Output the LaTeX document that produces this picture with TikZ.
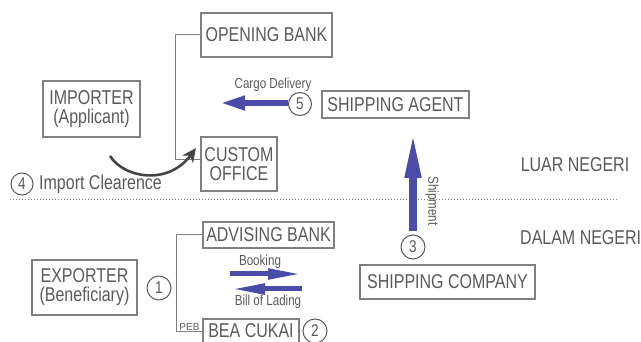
\documentclass[tikz,border=0pt]{standalone}
\usepackage{fontspec}
\setmainfont{Liberation Sans}[FakeStretch=0.8]
\newfontfamily\pebfont{Liberation Sans}
\usetikzlibrary{arrows.meta}

\definecolor{framegray}{HTML}{808080}
\definecolor{inkgray}{HTML}{5A5A5A}
\definecolor{flowblue}{HTML}{4B4BAA}
\definecolor{curvegray}{HTML}{454545}

\tikzset{
  party/.style={draw=framegray, line width=1.1pt, text=inkgray, align=center,
    inner sep=0pt, font=\fontsize{20}{19}\selectfont},
  stepno/.style={circle, draw=inkgray, line width=1pt, text=inkgray,
    inner sep=0pt, minimum size=#1, font=\fontsize{17}{17}\selectfont},
  flowlabel/.style={text=inkgray, inner sep=0pt, font=\fontsize{14.5}{15}\selectfont},
  zonelabel/.style={text=inkgray, inner sep=0pt, font=\fontsize{20}{20}\selectfont},
  link/.style={draw=framegray, line width=1pt},
  blueflow/.style={draw=flowblue, line width=#1},
}

\begin{document}
\begin{tikzpicture}[x=1pt, y=-1pt]
  \useasboundingbox (0,0) rectangle (641,342);

  % --- parties ---
  \node[party, minimum width=131pt, minimum height=44pt] (opening) at (266.5,35) {OPENING BANK};
  \node[party, minimum width=97pt,  minimum height=56pt] (importer) at (91.5,109) {IMPORTER\\(Applicant)};
  \node[party, minimum width=76pt,  minimum height=54pt] (custom) at (239,164) {CUSTOM\\OFFICE};
  \node[party, minimum width=147pt, minimum height=27pt] (agent) at (395.5,104.5) {SHIPPING AGENT};
  \node[party, minimum width=131pt, minimum height=26pt] (advising) at (268.5,235) {ADVISING BANK};
  \node[party, minimum width=105pt, minimum height=55pt] (exporter) at (84.5,287.5) {EXPORTER\\(Beneficiary)};
  \node[party, minimum width=175pt, minimum height=34pt] (shipco) at (447.5,282) {SHIPPING COMPANY};
  \node[party, minimum width=96pt,  minimum height=28pt] (beacukai) at (251,333) {};
  \node[text=inkgray, inner sep=0pt, font=\fontsize{20}{19}\selectfont] (beatext) at (251,330.5) {BEA CUKAI};

  % --- step numbers ---
  \node[stepno=24pt] (s1) at (159,288) {1};
  \node[stepno=24pt] (s2) at (315,331) {2};
  \node[stepno=24pt] (s3) at (413,247) {3};
  \node[stepno=22pt] (s4) at (22,184) {4};
  \node[stepno=23pt] (s5) at (300,104) {5};

  % --- zone labels and separator ---
  \node[zonelabel] (luar) at (575,165) {LUAR NEGERI};
  \node[zonelabel, anchor=west] (dalam) at (520,238) {DALAM NEGERI};
  \node[zonelabel, anchor=west] (clearance) at (39,184) {Import Clearence};
  \coordinate (sepL) at (10,199);
  \coordinate (sepR) at (618,199);
  \draw[framegray, line width=0.8pt, dash pattern=on 1pt off 2pt] (sepL) -- (sepR);

  % --- bank / customs connectors ---
  \draw[link] (opening.west) -- ++(-25,0) |- ([yshift=4pt]custom.west);
  \draw[link] (advising.west) -- ++(-26,0) |- ([yshift=1pt]beacukai.west);
  \node[text=inkgray, inner sep=0pt, font=\pebfont\fontsize{10}{10}\selectfont] (peb) at (189.5,327) {PEB};

  % --- cargo delivery ---
  \coordinate (cargoTail) at (288,103);
  \coordinate (cargoTip) at (219,103);
  \draw[blueflow=6.5pt, -{Triangle[length=26pt,width=13pt]}] (cargoTail) -- (cargoTip);
  \node[flowlabel] (cargoLbl) at (273,85) {Cargo Delivery};

  % --- shipment ---
  \coordinate (shipTail) at (413,231);
  \coordinate (shipTip) at (413,132);
  \draw[blueflow=7.5pt, -{Triangle[length=46pt,width=15pt]}] (shipTail) -- (shipTip);
  \node[flowlabel, rotate=-90] (shipLbl) at (432,201) {Shipment};

  % --- booking / bill of lading ---
  \coordinate (bookTail) at (230,274);
  \coordinate (bookTip) at (302,274);
  \draw[blueflow=5pt, -{Triangle[length=34pt,width=10pt]}] (bookTail) -- (bookTip);
  \node[flowlabel] (bookLbl) at (260,262) {Booking};
  \coordinate (blTail) at (302,289);
  \coordinate (blTip) at (231,289);
  \draw[blueflow=5pt, -{Triangle[length=34pt,width=10pt]}] (blTail) -- (blTip);
  \node[flowlabel] (blLbl) at (268,302) {Bill of Lading};

  % --- import clearance curve ---
  \coordinate (clrStart) at (110,156);
  \coordinate (clrEnd) at (196,148);
  \draw[curvegray, line width=2.6pt, -{Stealth[length=14pt,width=13pt]}]
    (clrStart) .. controls (124,178) and (168,186) .. (clrEnd);
\end{tikzpicture}
\end{document}
